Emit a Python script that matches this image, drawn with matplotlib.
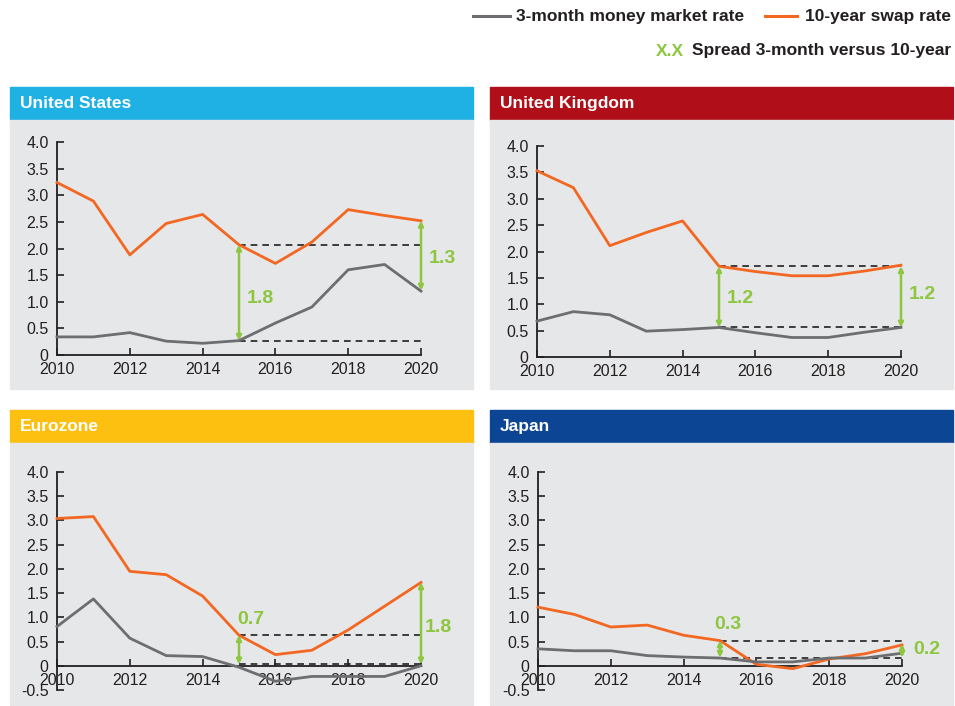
import matplotlib
matplotlib.use('Agg')
import matplotlib.pyplot as plt
from matplotlib.patches import Rectangle
from matplotlib.lines import Line2D
from matplotlib.ticker import FuncFormatter

plt.rcParams['font.family'] = ['Liberation Sans', 'DejaVu Sans']

years = list(range(2010, 2021))

# 10-year swap rate
us_swap = [3.24, 2.89, 1.88, 2.47, 2.64, 2.07, 1.72, 2.12, 2.73, 2.62, 2.52]
uk_swap = [3.53, 3.21, 2.11, 2.36, 2.58, 1.72, 1.62, 1.54, 1.54, 1.63, 1.74]
ez_swap = [3.04, 3.08, 1.95, 1.88, 1.44, 0.63, 0.23, 0.32, 0.74, 1.23, 1.72]
jp_swap = [1.21, 1.06, 0.80, 0.84, 0.63, 0.52, 0.03, -0.06, 0.14, 0.25, 0.43]

# 3-month money market rate
us_mm = [0.34, 0.34, 0.42, 0.26, 0.22, 0.27, 0.60, 0.90, 1.60, 1.70, 1.20]
uk_mm = [0.68, 0.86, 0.80, 0.49, 0.52, 0.56, 0.46, 0.37, 0.37, 0.47, 0.56]
ez_mm = [0.81, 1.38, 0.57, 0.21, 0.19, -0.03, -0.32, -0.22, -0.22, -0.22, 0.0]
jp_mm = [0.35, 0.31, 0.31, 0.21, 0.18, 0.16, 0.08, 0.08, 0.16, 0.16, 0.26]

# spread guides: dashed levels, labels, 2020 arrow range
us_spread = dict(top=2.07, bot=0.27, s15='1.8', s20='1.3', a20=(1.21, 2.52))
uk_spread = dict(top=1.72, bot=0.56, s15='1.2', s20='1.2', a20=(0.56, 1.72))
ez_spread = dict(top=0.63, bot=0.03, s15='0.7', s20='1.8', a20=(0.03, 1.72))
jp_spread = dict(top=0.52, bot=0.17, s15='0.3', s20='0.2', a20=(0.17, 0.45))

W, H = 955, 706
ORANGE = '#F26722'
GREY = '#6D6E71'
GREEN = '#8DC63F'
BG = '#E6E7E8'
INK = '#231F20'

fig = plt.figure(figsize=(W / 100, H / 100), dpi=100)


def rect(x0, y0, x1, y1):
    return [x0 / W, 1 - y1 / H, (x1 - x0) / W, (y1 - y0) / H]


def panel(title, color, box, axbox, swap, mm, sp, ylim, lab15, lab20):
    x0, y0, x1, yh, y1 = box
    fig.add_artist(Rectangle((x0 / W, 1 - yh / H), (x1 - x0) / W, (yh - y0) / H,
                             transform=fig.transFigure, color=color, zorder=0))
    fig.add_artist(Rectangle((x0 / W, 1 - y1 / H), (x1 - x0) / W, (y1 - yh) / H,
                             transform=fig.transFigure, color=BG, zorder=0))
    fig.text((x0 + 10) / W, 1 - (y0 + yh) / 2 / H, title, color='white',
             fontsize=12.5, fontweight='bold', va='center', ha='left')

    ax = fig.add_axes(rect(*axbox))
    ax.patch.set_alpha(0)
    ax.plot(years, swap, color=ORANGE, lw=2, clip_on=False, zorder=3)
    ax.plot(years, mm, color=GREY, lw=2, clip_on=False, zorder=3)
    ax.set_xlim(2010, 2020)
    ax.set_ylim(*ylim)
    ax.set_xticks(range(2010, 2021, 2))
    ax.set_yticks([v / 2 for v in range(int(ylim[0] * 2), 9)])
    ax.yaxis.set_major_formatter(FuncFormatter(lambda v, p: '0' if v == 0 else f'{v:.1f}'))
    for s in ['top', 'right']:
        ax.spines[s].set_visible(False)
    for s in ['left', 'bottom']:
        ax.spines[s].set_color(INK)
        ax.spines[s].set_linewidth(1.3)
    ax.spines['bottom'].set_position(('data', 0))
    ax.tick_params(direction='in', length=5, width=1.2, colors=INK, labelsize=11.5)
    ax.tick_params(axis='x', pad=5)
    ax.tick_params(axis='y', pad=6)

    # spread guides
    ax.plot([2015, 2020], [sp['top']] * 2, ls=(0, (4, 3)), color=INK, lw=1.2, zorder=2)
    ax.plot([2015, 2020], [sp['bot']] * 2, ls=(0, (4, 3)), color=INK, lw=1.2, zorder=2)
    arrow = dict(arrowstyle='<|-|>', color=GREEN, lw=1.8, mutation_scale=7,
                 shrinkA=0, shrinkB=0)
    ax.annotate('', xy=(2015, sp['top']), xytext=(2015, sp['bot']), arrowprops=arrow,
                annotation_clip=False, zorder=4)
    ax.annotate('', xy=(2020, sp['a20'][1]), xytext=(2020, sp['a20'][0]), arrowprops=arrow,
                annotation_clip=False, zorder=4)
    ax.text(lab15[0], lab15[1], sp['s15'], color=GREEN, fontsize=14, fontweight='bold',
            ha='left', va='center')
    ax.text(lab20[0], lab20[1], sp['s20'], color=GREEN, fontsize=14, fontweight='bold',
            ha='left', va='center')
    return ax


panel('United States', '#1FB0E4', (10, 87, 473, 120, 389), (57, 142, 421, 355),
      us_swap, us_mm, us_spread, (0, 4.0), (2015.2, 1.06), (2020.2, 1.82))
panel('United Kingdom', '#B00F19', (490, 87, 953, 120, 389), (537, 146, 901, 357),
      uk_swap, uk_mm, uk_spread, (0, 4.0), (2015.2, 1.10), (2020.2, 1.18))
panel('Eurozone', '#FDC011', (10, 410, 473, 443, 705), (57, 472, 421, 690),
      ez_swap, ez_mm, ez_spread, (-0.5, 4.0), (2014.95, 0.95), (2020.1, 0.78))
panel('Japan', '#0C4594', (490, 410, 953, 443, 705), (538, 472, 902, 690),
      jp_swap, jp_mm, jp_spread, (-0.5, 4.0), (2014.85, 0.86), (2020.3, 0.34))

# legend
fig.add_artist(Line2D([473 / W, 510 / W], [1 - 16 / H] * 2, color=GREY, lw=2.2))
fig.text(744 / W, 1 - 16 / H, '3-month money market rate', fontsize=12.5, fontweight='bold',
         color=INK, va='center', ha='right')
fig.add_artist(Line2D([765 / W, 797 / W], [1 - 16 / H] * 2, color=ORANGE, lw=2.2))
fig.text(951 / W, 1 - 16 / H, '10-year swap rate', fontsize=12.5, fontweight='bold',
         color=INK, va='center', ha='right')
fig.text(684 / W, 1 - 51 / H, 'X.X', fontsize=12.5, fontweight='bold',
         color=GREEN, va='center', ha='right')
fig.text(951 / W, 1 - 51 / H, 'Spread 3-month versus 10-year', fontsize=12.5, fontweight='bold',
         color=INK, va='center', ha='right')

fig.savefig('out.png', dpi=100)
